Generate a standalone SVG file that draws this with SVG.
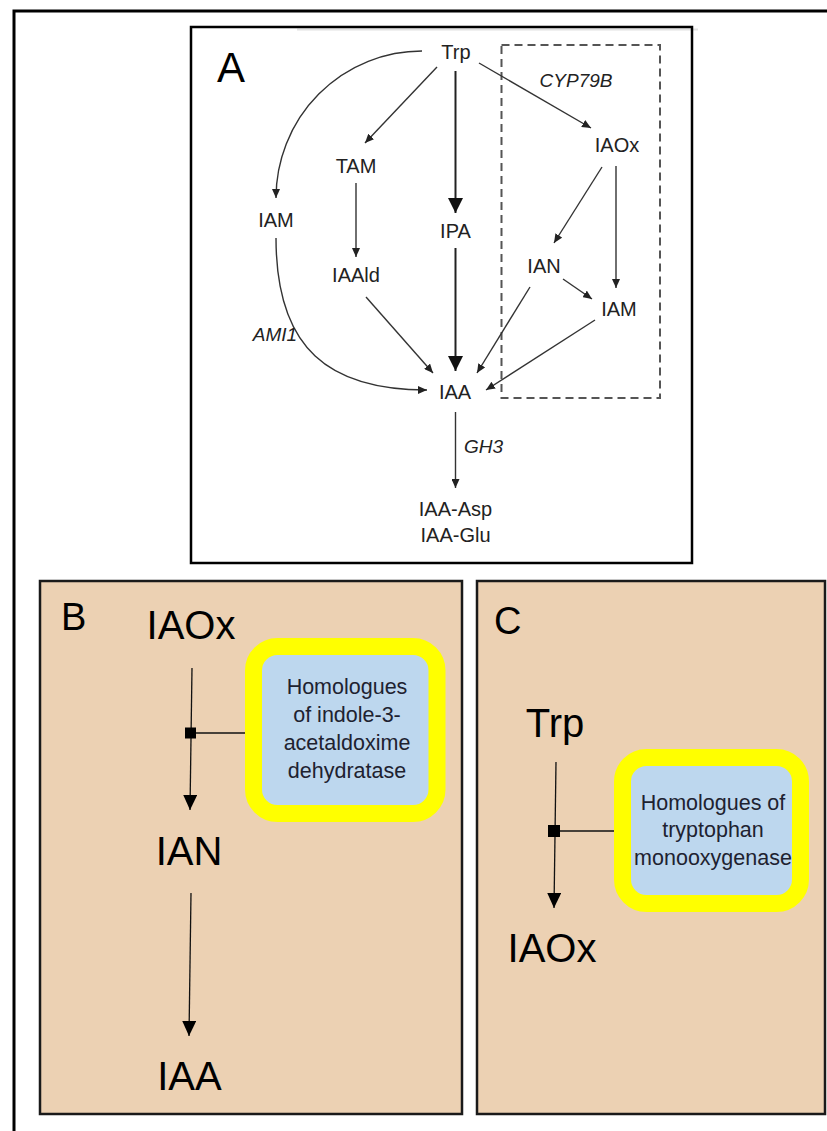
<svg xmlns="http://www.w3.org/2000/svg" width="827" height="1131" viewBox="0 0 827 1131">
<defs>
<style>
.ta{font-family:"Liberation Sans",Arial,sans-serif;font-size:20px;fill:#222;text-anchor:middle}
.it{font-style:italic;font-size:19px}
.big{font-family:"Liberation Sans",Arial,sans-serif;font-size:40px;fill:#000;text-anchor:middle}
.lab{font-family:"Liberation Sans",Arial,sans-serif;font-size:38px;fill:#000}
.box{font-family:"Liberation Sans",Arial,sans-serif;font-size:21.5px;fill:#1e2230;text-anchor:middle}
.ca{fill:none;stroke:#333;stroke-width:1.4;marker-end:url(#ms)}
.cb{fill:none;stroke:#222;stroke-width:2;marker-end:url(#mb)}
.cp{fill:none;stroke:#111;stroke-width:1.3}
.cpa{fill:none;stroke:#111;stroke-width:1.3;marker-end:url(#mp)}
.panel{fill:#ECD1B3;stroke:#1a1a1a;stroke-width:2.5}
.hl{fill:#BDD7EE;stroke:#FFFF00;stroke-width:17}
</style>
<marker id="ms" markerUnits="userSpaceOnUse" markerWidth="9" markerHeight="8" refX="9" refY="4" orient="auto"><path d="M0,0 L9,4 L0,8 z" fill="#222"/></marker>
<marker id="mb" markerUnits="userSpaceOnUse" markerWidth="15" markerHeight="15" refX="15" refY="7.5" orient="auto"><path d="M0,0 L15,7.5 L0,15 z" fill="#111"/></marker>
<marker id="mp" markerUnits="userSpaceOnUse" markerWidth="15" markerHeight="14" refX="15" refY="7" orient="auto"><path d="M0,0 L15,7 L0,14 z" fill="#000"/></marker>
</defs>
<rect width="827" height="1131" fill="#fff"/>
<path d="M14,1131 L14,11 L827,11" fill="none" stroke="#000" stroke-width="3"/>

<!-- Panel A -->
<g id="panelA">
<line x1="297" y1="29.5" x2="698" y2="29.5" stroke="#e2e2e2" stroke-width="2"/>
<rect x="191" y="27" width="501" height="536" fill="none" stroke="#000" stroke-width="2.5"/>
<rect x="501.5" y="45" width="158.5" height="353" fill="none" stroke="#555" stroke-width="2" stroke-dasharray="8,5"/>
<text x="217" y="82" style="font-family:'Liberation Sans',Arial,sans-serif;font-size:42px;fill:#000">A</text>
</g>
<g id="connectorsA">
<path class="ca" d="M422,51 A146,147 0 0 0 276,198"/>
<path class="ca" d="M437,67 L365,143"/>
<path class="cb" d="M455.5,71 L455.5,213"/>
<path class="ca" d="M479,63 L591,128"/>
<path class="ca" d="M356,183 L356,257"/>
<path class="ca" d="M276,238 C276,350 330,390 427,390"/>
<path class="ca" d="M366,297 L433,373"/>
<path class="cb" d="M455.5,248 L455.5,371"/>
<path class="ca" d="M530,287 L477,373"/>
<path class="ca" d="M595,320 L486,390"/>
<path class="ca" d="M602,167 L554,243"/>
<path class="ca" d="M616,166 L616,288"/>
<path class="ca" d="M563,279 L592,299"/>
<path class="ca" d="M455.5,412 L455.5,488"/>
</g>
<g id="nTrp"><text class="ta" x="456" y="59">Trp</text></g>
<g id="nTAM"><text class="ta" x="356" y="173">TAM</text></g>
<g id="nIAM1"><text class="ta" x="276" y="227">IAM</text></g>
<g id="nIPA"><text class="ta" x="455.5" y="238">IPA</text></g>
<g id="nIAAld"><text class="ta" x="356" y="282">IAAld</text></g>
<g id="nIAA"><text class="ta" x="455" y="399">IAA</text></g>
<g id="lAMI1"><text class="ta it" x="275" y="341">AMI1</text></g>
<g id="lGH3"><text class="ta it" x="483.5" y="453">GH3</text></g>
<g id="nConj"><text class="ta" x="455.5" y="516">IAA-Asp</text><text class="ta" x="455.5" y="542">IAA-Glu</text></g>
<g id="lCYP"><text class="ta it" x="576" y="87">CYP79B</text></g>
<g id="nIAOx"><text class="ta" x="617" y="152">IAOx</text></g>
<g id="nIAN"><text class="ta" x="544" y="273">IAN</text></g>
<g id="nIAM2"><text class="ta" x="619" y="316">IAM</text></g>

<!-- Panel B -->
<g id="panelB">
<rect class="panel" x="40" y="581" width="422" height="533"/>
<text class="lab" x="61" y="630">B</text>
</g>
<g id="connectorsB">
<path class="cpa" d="M192,668 L190,810"/>
<path class="cp" d="M196,733 L253,733"/>
<rect x="185" y="727.5" width="11" height="11" fill="#000"/>
<path class="cpa" d="M191,893 L189,1036"/>
</g>
<g id="bIAOx"><text class="big" x="191" y="639">IAOx</text></g>
<g id="bIAN"><text class="big" x="189" y="865">IAN</text></g>
<g id="bIAA"><text class="big" x="189.5" y="1090">IAA</text></g>
<g id="bEnzyme">
<rect class="hl" x="253.5" y="646.5" width="183.5" height="167" rx="24"/>
<text class="box" x="347" y="694">Homologues</text>
<text class="box" x="347" y="722">of indole-3-</text>
<text class="box" x="347" y="750">acetaldoxime</text>
<text class="box" x="347" y="778">dehydratase</text>
</g>

<!-- Panel C -->
<g id="panelC">
<rect class="panel" x="477" y="581" width="348" height="533"/>
<text class="lab" x="494" y="634">C</text>
</g>
<g id="connectorsC">
<path class="cpa" d="M556,762 L554,908"/>
<path class="cp" d="M560,831 L618,831"/>
<rect x="548" y="825" width="12" height="12" fill="#000"/>
</g>
<g id="cTrp"><text class="big" x="555" y="737">Trp</text></g>
<g id="cIAOx"><text class="big" x="552" y="962">IAOx</text></g>
<g id="cEnzyme">
<rect class="hl" x="622.5" y="757.5" width="178" height="146" rx="24"/>
<text class="box" x="713" y="810">Homologues of</text>
<text class="box" x="713" y="837">tryptophan</text>
<text class="box" x="713" y="865">monooxygenase</text>
</g>
</svg>
